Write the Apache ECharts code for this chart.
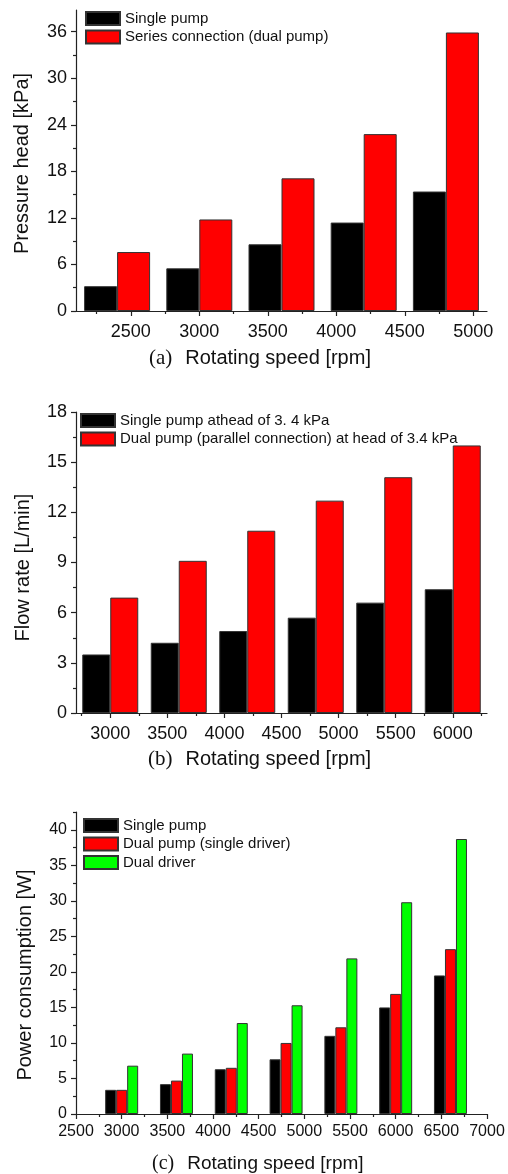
<!DOCTYPE html>
<html>
<head>
<meta charset="utf-8">
<script src="https://cdn.jsdelivr.net/npm/echarts@6/dist/echarts.min.js"></script>
<style>
html, body { margin: 0; padding: 0; background: #fff; }
#chart { width: 508px; height: 1174px; }
</style>
</head>
<body>
<div id="chart"></div>
<script>
// (a) pressure head
var speedA = [2400, 3000, 3600, 4200, 4800];
var headSingle = [3.2, 5.5, 8.6, 11.4, 15.4];
var headSeries = [7.6, 11.8, 17.1, 22.8, 35.9];
var xTicksA = [2500, 3000, 3500, 4000, 4500, 5000];
var xMinorA = [2250, 2750, 3250, 3750, 4250, 4750];
var yTicksA = [0, 6, 12, 18, 24, 30, 36];
var yMinorA = [3, 9, 15, 21, 27, 33];

// (b) flow rate
var speedB = [3000, 3600, 4200, 4800, 5400, 6000];
var flowSingle = [3.5, 4.2, 4.9, 5.7, 6.6, 7.4];
var flowDual = [6.9, 9.1, 10.9, 12.7, 14.1, 16.0];
var xTicksB = [3000, 3500, 4000, 4500, 5000, 5500, 6000];
var xMinorB = [2750, 3250, 3750, 4250, 4750, 5250, 5750, 6250];
var yTicksB = [0, 3, 6, 9, 12, 15, 18];
var yMinorB = [1.5, 4.5, 7.5, 10.5, 13.5, 16.5];

// (c) power consumption
var speedC = [3000, 3600, 4200, 4800, 5400, 6000, 6600];
var powerSingle = [3.4, 4.2, 6.3, 7.7, 11.0, 15.0, 19.5];
var powerDualPump = [3.4, 4.7, 6.5, 10.0, 12.2, 16.9, 23.2];
var powerDualDriver = [6.8, 8.5, 12.8, 15.3, 21.9, 29.8, 38.7];
var xTicksC = [2500, 3000, 3500, 4000, 4500, 5000, 5500, 6000, 6500, 7000];
var xMinorC = [2750, 3250, 3750, 4250, 4750, 5250, 5750, 6250, 6750];
var yTicksC = [0, 5, 10, 15, 20, 25, 30, 35, 40];
var yMinorC = [2.5, 7.5, 12.5, 17.5, 22.5, 27.5, 32.5, 37.5, 42.5];

var SANS = 'Liberation Sans';
var SERIF = 'Liberation Serif';
var INK = '#111';
var lineStyle = {color: '#222', width: 1.2};

function pair(arr, xs) {
    return arr.map(function (v, i) { return [xs[i], v]; });
}
function plain(v) { return String(v); }

// main axis (line, labels, major ticks) + overlay axis for minor ticks
function xPair(grid, min, max, major, minor, fs, margin) {
    return [{
        type: 'value', gridIndex: grid, position: 'bottom', min: min, max: max,
        axisLine: {show: true, onZero: false, lineStyle: lineStyle},
        axisTick: {show: true, length: 5, customValues: major, lineStyle: lineStyle},
        axisLabel: {customValues: major, formatter: plain, color: INK, fontFamily: SANS, fontSize: fs, margin: margin},
        splitLine: {show: false}
    }, {
        type: 'value', gridIndex: grid, position: 'bottom', min: min, max: max,
        axisLine: {show: false, onZero: false},
        axisTick: {show: true, length: 3, customValues: minor, lineStyle: lineStyle},
        axisLabel: {show: false},
        splitLine: {show: false}
    }];
}
function yPair(grid, max, major, minor, fs, name, gap, pad) {
    return [{
        type: 'value', gridIndex: grid, position: 'left', min: 0, max: max,
        name: name, nameLocation: 'middle', nameGap: gap,
        nameTextStyle: {color: INK, fontFamily: SANS, fontSize: 20, padding: pad},
        axisLine: {show: true, onZero: false, lineStyle: lineStyle},
        axisTick: {show: true, length: 5, customValues: major, lineStyle: lineStyle},
        axisLabel: {customValues: major, formatter: plain, color: INK, fontFamily: SANS, fontSize: fs, margin: 9},
        splitLine: {show: false}
    }, {
        type: 'value', gridIndex: grid, position: 'left', min: 0, max: max,
        axisLine: {show: false, onZero: false},
        axisTick: {show: true, length: 3, customValues: minor, lineStyle: lineStyle},
        axisLabel: {show: false},
        splitLine: {show: false}
    }];
}
function bar(name, color, x, y, data, xs, width) {
    return {
        name: name, type: 'bar', xAxisIndex: x, yAxisIndex: y,
        data: pair(data, xs), barWidth: width, barGap: '0%',
        itemStyle: {color: color, borderColor: '#333', borderWidth: 1},
        animation: false
    };
}
function legend(top, left, names) {
    return {
        top: top, left: left, orient: 'vertical', padding: 0,
        icon: 'rect', itemWidth: 34, itemHeight: 13, itemGap: 3.5, selectedMode: false,
        textStyle: {color: INK, fontFamily: SANS, fontSize: 15},
        data: names
    };
}
function axisTitle(tag, left, top, fs) {
    return {
        left: left, top: top, padding: 0,
        text: '{p|(' + tag + ')}{t|Rotating speed [rpm]}',
        textStyle: {
            fontWeight: 'normal',
            rich: {
                p: {fontFamily: SERIF, fontWeight: 'normal', fontSize: fs + 1, color: INK, padding: [0, 13, 0, 0], lineHeight: 22},
                t: {fontFamily: SANS, fontWeight: 'normal', fontSize: fs, color: INK, lineHeight: 22}
            }
        }
    };
}

var chart = echarts.init(document.getElementById('chart'));
var option = {
    backgroundColor: '#ffffff',
    animation: false,
    grid: [
        {left: 76, right: 21, top: 10, height: 301},
        {left: 76, right: 21, top: 412, height: 301},
        {left: 76, right: 21, top: 812, height: 302}
    ],
    xAxis: [].concat(
        xPair(0, 2100, 5100, xTicksA, xMinorA, 18, 12),
        xPair(1, 2700, 6300, xTicksB, xMinorB, 18, 12),
        xPair(2, 2500, 7000, xTicksC, xMinorC, 16, 10)
    ),
    yAxis: [].concat(
        yPair(0, 38.8, yTicksA, yMinorA, 18, 'Pressure head [kPa]', 44, [0, 6, 0, 0]),
        yPair(1, 18, yTicksB, yMinorB, 18, 'Flow rate [L/min]', 43, [0, 10, 0, 0]),
        yPair(2, 42.5, yTicksC, yMinorC, 16, 'Power consumption [W]', 41, [0, 24, 0, 0])
    ),
    legend: [
        legend(11, 85, ['Single pump', 'Series connection (dual pump)']),
        legend(413, 80, ['Single pump athead of 3. 4 kPa', 'Dual pump (parallel connection) at head of 3.4 kPa']),
        legend(818, 83, ['Single pump', 'Dual pump (single driver)', 'Dual driver'])
    ],
    title: [
        axisTitle('a', 149, 347, 20),
        axisTitle('b', 148, 748, 20),
        axisTitle('c', 152, 1153, 19)
    ],
    series: [
        bar('Single pump', '#000000', 0, 0, headSingle, speedA, 33),
        bar('Series connection (dual pump)', '#ff0000', 0, 0, headSeries, speedA, 33),
        bar('Single pump athead of 3. 4 kPa', '#000000', 2, 2, flowSingle, speedB, 28),
        bar('Dual pump (parallel connection) at head of 3.4 kPa', '#ff0000', 2, 2, flowDual, speedB, 28),
        bar('Single pump', '#000000', 4, 4, powerSingle, speedC, 11),
        bar('Dual pump (single driver)', '#ff0000', 4, 4, powerDualPump, speedC, 11),
        bar('Dual driver', '#00ff00', 4, 4, powerDualDriver, speedC, 11)
    ]
};
chart.setOption(option);
</script>
</body>
</html>
